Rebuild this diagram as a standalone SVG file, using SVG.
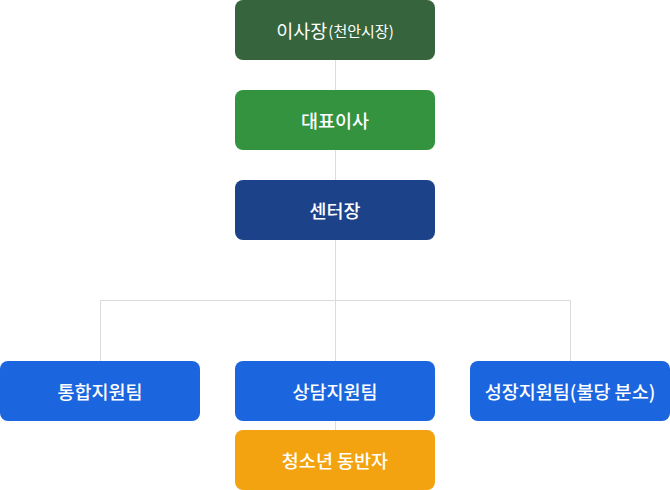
<svg xmlns="http://www.w3.org/2000/svg" width="670" height="490" viewBox="0 0 670 490">
<style>
.t{font-family:"Noto Sans CJK KR","Noto Sans",sans-serif;font-size:18.5px;font-weight:500;fill:#fff;text-anchor:middle;dominant-baseline:central}
.r{font-weight:400}
.s{font-size:15px}
.c{stroke:#dcdcdc;stroke-width:1;fill:none}
</style>
<rect width="670" height="490" fill="#fff"/>
<g id="connectors">
<path class="c" d="M335.5 60V361M100.5 361V300.5H570.5V361M335.5 421V430"/>
</g>
<g id="n1"><rect x="235" y="0" width="200" height="60" rx="8" fill="#36643c"/><text class="t r" x="335" y="30">이사장<tspan class="s" dx="1">(천안시장)</tspan></text></g>
<g id="n2"><rect x="235" y="90" width="200" height="60" rx="8" fill="#33933f"/><text class="t" x="335" y="120">대표이사</text></g>
<g id="n3"><rect x="235" y="180" width="200" height="60" rx="8" fill="#1c4389"/><text class="t" x="335" y="210">센터장</text></g>
<g id="n4"><rect x="0" y="361" width="200" height="60" rx="8" fill="#1b66de"/><text class="t" x="100" y="391">통합지원팀</text></g>
<g id="n5"><rect x="235" y="361" width="200" height="60" rx="8" fill="#1b66de"/><text class="t" x="335" y="391">상담지원팀</text></g>
<g id="n6"><rect x="470" y="361" width="200" height="60" rx="8" fill="#1b66de"/><text class="t" x="570" y="391">성장지원팀(불당 분소)</text></g>
<g id="n7"><rect x="235" y="430" width="200" height="60" rx="8" fill="#f2a30f"/><text class="t" x="335" y="460">청소년 동반자</text></g>
</svg>
